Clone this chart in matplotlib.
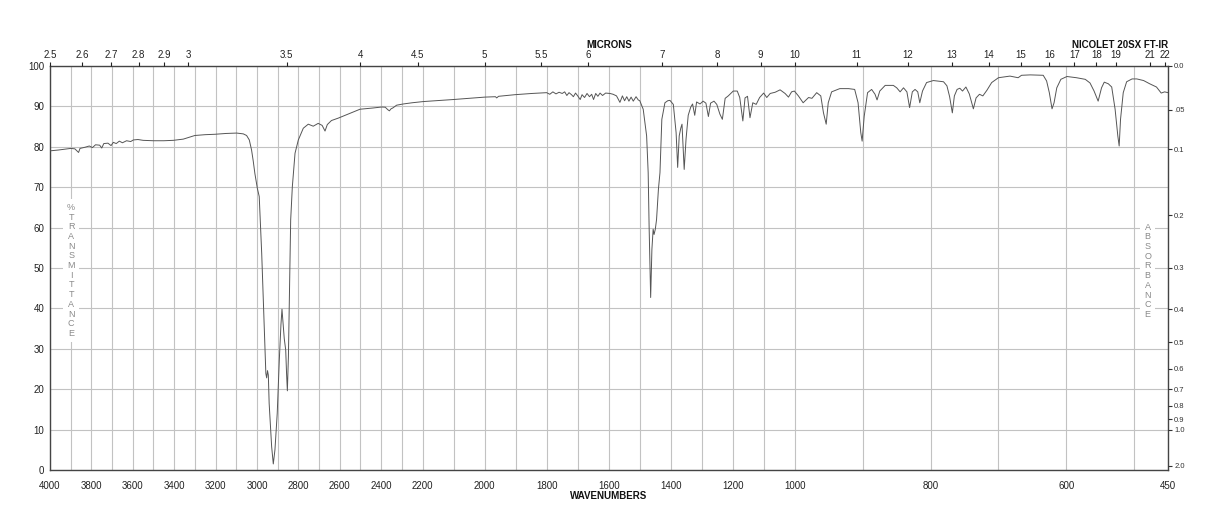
import numpy as np
import matplotlib
matplotlib.use("Agg")
import matplotlib.pyplot as plt

plt.rcParams['font.family'] = ['Liberation Sans', 'DejaVu Sans']

# spectrum: wavenumber (cm-1) and % transmittance
wavenumber = [
    4000, 3960, 3930, 3900, 3880, 3862, 3855, 3830, 3810, 3795, 3780, 3760, 3750,
    3740, 3720, 3705, 3694, 3680, 3665, 3650, 3630, 3610, 3597, 3575, 3550, 3500,
    3450, 3404, 3356, 3300, 3250, 3203, 3150, 3098, 3066, 3050, 3037, 3026, 3018,
    3010, 2998, 2989, 2977, 2966, 2957, 2953, 2949, 2945, 2941, 2929, 2921, 2913,
    2902, 2892, 2884, 2879, 2874, 2868, 2861, 2857, 2853, 2848, 2844, 2837, 2829,
    2816, 2800, 2776, 2752, 2728, 2704, 2685, 2671, 2660, 2640, 2607, 2550, 2502,
    2440, 2397, 2380, 2368, 2360, 2352, 2344, 2325, 2293, 2250, 2197, 2101, 1999,
    1965, 1961, 1955, 1902, 1848, 1800, 1790, 1780, 1770, 1760, 1750, 1742, 1735,
    1728, 1720, 1714, 1707, 1700, 1692, 1686, 1678, 1670, 1662, 1655, 1649, 1642,
    1635, 1628, 1620, 1610, 1596, 1586, 1575, 1564, 1556, 1549, 1542, 1535, 1528,
    1521, 1512, 1505, 1500, 1489, 1478, 1473, 1470, 1465, 1461, 1457, 1454, 1450,
    1446, 1440, 1435, 1429, 1419, 1410, 1403, 1392, 1383, 1378, 1373, 1368, 1364,
    1357, 1351, 1344, 1336, 1330, 1323, 1317, 1306, 1296, 1287, 1279, 1272, 1261,
    1252, 1242, 1234, 1225, 1215, 1199, 1186, 1178, 1168, 1161, 1153, 1145, 1136,
    1125, 1114, 1101, 1091, 1080, 1064, 1048, 1032, 1021, 1011, 1002, 995, 988,
    980, 975, 968, 962, 958, 954, 951, 946, 934, 921, 912, 907, 903, 901, 898,
    893, 887, 882, 879, 875, 867, 855, 850, 845, 840, 835, 831, 827, 823, 819,
    816, 812, 806, 796, 781, 776, 772, 768, 765, 761, 757, 753, 748, 743, 737,
    733, 728, 723, 717, 710, 700, 683, 671, 666, 653, 634, 629, 625, 621, 618,
    614, 608, 599, 585, 572, 565, 559, 553, 548, 544, 538, 533, 528, 524, 522,
    520, 516, 511, 503, 496, 486, 477, 467, 460, 455, 450,
]
transmittance = [
    79.0, 79.2, 79.4, 79.6, 79.5, 78.6, 79.6, 79.9, 80.2, 79.8, 80.5, 80.4, 79.7,
    80.8, 80.9, 80.3, 81.1, 80.8, 81.4, 81.0, 81.5, 81.3, 81.7, 81.8, 81.6, 81.5,
    81.5, 81.6, 81.9, 82.8, 83.0, 83.1, 83.3, 83.4, 83.2, 82.8, 81.7, 79.2, 76.5,
    73.4, 69.7, 67.7, 53.6, 37.1, 23.9, 22.8, 24.6, 23.5, 16.5, 5.8, 1.5, 5.0,
    14.0, 27.2, 36.0, 39.8, 36.5, 32.5, 29.7, 24.0, 19.6, 28.0, 40.4, 61.9, 70.1,
    78.4, 81.7, 84.6, 85.6, 85.1, 85.8, 85.3, 83.9, 85.5, 86.5, 87.1, 88.3, 89.3,
    89.6, 89.85, 89.8, 89.2, 88.9, 89.4, 89.6, 90.3, 90.6, 90.9, 91.2, 91.7, 92.3,
    92.4, 92.1, 92.5, 92.9, 93.2, 93.4, 93.0, 93.6, 93.1, 93.5, 93.2, 93.6, 92.7,
    93.4, 92.9, 92.4, 93.3, 92.6, 91.7, 92.9, 92.2, 93.2, 92.4, 93.0, 91.7, 93.2,
    92.5, 93.3, 92.7, 93.3, 93.2, 93.0, 92.6, 91.0, 92.6, 91.4, 92.4, 91.3, 92.3,
    91.3, 92.4, 91.6, 91.4, 89.3, 82.7, 73.6, 60.4, 42.7, 54.6, 59.6, 58.3, 59.6,
    62.0, 69.5, 73.6, 86.8, 90.9, 91.4, 91.5, 90.5, 83.5, 74.9, 82.7, 84.6, 85.6,
    74.4, 81.9, 87.8, 89.8, 90.6, 87.8, 91.1, 90.6, 91.3, 90.8, 87.5, 90.8, 91.3,
    90.5, 88.1, 86.8, 92.0, 92.6, 93.8, 93.8, 92.2, 86.4, 92.1, 92.5, 87.2, 90.9,
    90.5, 92.2, 93.3, 92.2, 93.2, 93.5, 94.1, 93.2, 92.3, 93.6, 93.8, 92.6, 90.9,
    92.2, 92.0, 93.4, 92.6, 88.4, 85.6, 90.9, 93.6, 94.4, 94.4, 94.2, 90.9, 83.5,
    81.4, 87.5, 93.4, 94.2, 93.0, 91.6, 93.8, 95.2, 95.2, 94.6, 93.6, 94.6, 93.6,
    89.7, 93.6, 94.2, 93.6, 90.9, 93.8, 95.9, 96.4, 96.1, 95.1, 92.4, 88.4, 92.6,
    94.2, 94.5, 93.8, 94.8, 93.1, 89.4, 92.1, 93.0, 92.6, 94.0, 95.9, 97.1, 97.5,
    97.1, 97.7, 97.8, 97.7, 96.3, 93.4, 89.4, 90.9, 94.6, 96.7, 97.4, 97.1, 96.7,
    95.8, 93.8, 91.3, 94.6, 96.0, 95.6, 94.8, 89.3, 82.7, 80.2, 86.8, 93.4, 96.1,
    96.8, 96.8, 96.4, 95.6, 94.8, 93.3, 93.6, 93.4,
]

wn_labels = [4000, 3800, 3600, 3400, 3200, 3000, 2800, 2600, 2400, 2200,
             2000, 1800, 1600, 1400, 1200, 1000, 800, 600, 450]
micron_labels = [2.5, 2.6, 2.7, 2.8, 2.9, 3, 3.5, 4, 4.5, 5, 5.5, 6, 7, 8, 9,
                 10, 11, 12, 13, 14, 15, 16, 17, 18, 19, 21, 22]
absorb_labels = ["0.0", ".05", "0.1", "0.2", "0.3", "0.4", "0.5", "0.6",
                 "0.7", "0.8", "0.9", "1.0", "2.0"]

# the chart paper uses three linear segments along x (increasing map)
seg_w = np.array([450.0, 1000.0, 2200.0, 4000.0])
seg_p = np.array([0.0, 373.0, 745.5, 1118.0])


def fwd(w):
    w = np.asarray(w, dtype=float)
    p = np.interp(w, seg_w, seg_p)
    p = np.where(w < 450, (w - 450) * 0.678, p)
    p = np.where(w > 4000, 1118 + (w - 4000) * 0.207, p)
    return p


def inv(p):
    p = np.asarray(p, dtype=float)
    w = np.interp(p, seg_p, seg_w)
    w = np.where(p < 0, 450 + p / 0.678, w)
    w = np.where(p > 1118, 4000 + (p - 1118) / 0.207, w)
    return w


fig = plt.figure(figsize=(12.18, 5.28), dpi=100)
ax = fig.add_axes([50 / 1218, 58 / 528, 1118 / 1218, 404 / 528])
ax.set_xscale('function', functions=(fwd, inv))
ax.set_xlim(4000, 450)
ax.set_ylim(0, 100)

ax.plot(wavenumber, transmittance, color='#555555', lw=0.7, zorder=3)

grid_col = '#c2c2c2'
ax.set_xticks(wn_labels)
ax.set_xticklabels([str(v) for v in wn_labels])
ax.set_xticks(np.arange(4000, 450, -100), minor=True)
ax.set_yticks(np.arange(0, 101, 10))
ax.grid(True, which='both', color=grid_col, lw=0.8)
ax.set_axisbelow(True)
ax.tick_params(axis='x', which='both', length=0, pad=8, labelsize=7, colors='#222')
ax.tick_params(axis='y', length=0, pad=4, labelsize=7, colors='#222')
for s in ax.spines.values():
    s.set_color('#444')
    s.set_linewidth(1.0)

# microns along the top
ax_t = ax.twiny()
ax_t.set_xscale('function', functions=(fwd, inv))
ax_t.set_xlim(4000, 450)
ax_t.set_xticks([10000.0 / m for m in micron_labels])
ax_t.set_xticklabels([('%g' % m) for m in micron_labels])
ax_t.set_xticks([], minor=True)
ax_t.tick_params(axis='x', length=3, width=0.8, pad=1, labelsize=7,
                 colors='#222', direction='out')
for s in ax_t.spines.values():
    s.set_visible(False)

# absorbance on the right
ax_r = ax.twinx()
ax_r.set_ylim(0, 100)
ax_r.set_yticks([100 * 10 ** (-float(a)) for a in absorb_labels])
ax_r.set_yticklabels(absorb_labels)
ax_r.tick_params(axis='y', length=3, width=0.8, pad=1.5, labelsize=5.5,
                 colors='#333', direction='out')
for s in ax_r.spines.values():
    s.set_visible(False)

txt_kw = dict(ha='center', va='center', fontsize=6.5, color='#8a8a8a',
              linespacing=1.1, zorder=4,
              bbox=dict(facecolor='white', edgecolor='none', pad=3))
ax.text(3898, 49.4, '\n'.join('%TRANSMITTANCE'), **txt_kw)
ax.text(480, 49.3, '\n'.join('ABSORBANCE'), **txt_kw)

fig.text(609 / 1218, 1 - 45 / 528, 'MICRONS', ha='center', va='center',
         fontsize=7, fontweight='bold', color='#111')
fig.text(1120 / 1218, 1 - 45 / 528, 'NICOLET 20SX FT-IR', ha='center',
         va='center', fontsize=7, fontweight='bold', color='#111')
fig.text(609 / 1218, 1 - 496 / 528, 'WAVENUMBERS', ha='center', va='center',
         fontsize=7, fontweight='bold', color='#111')

fig.savefig('out.png', dpi=100)
